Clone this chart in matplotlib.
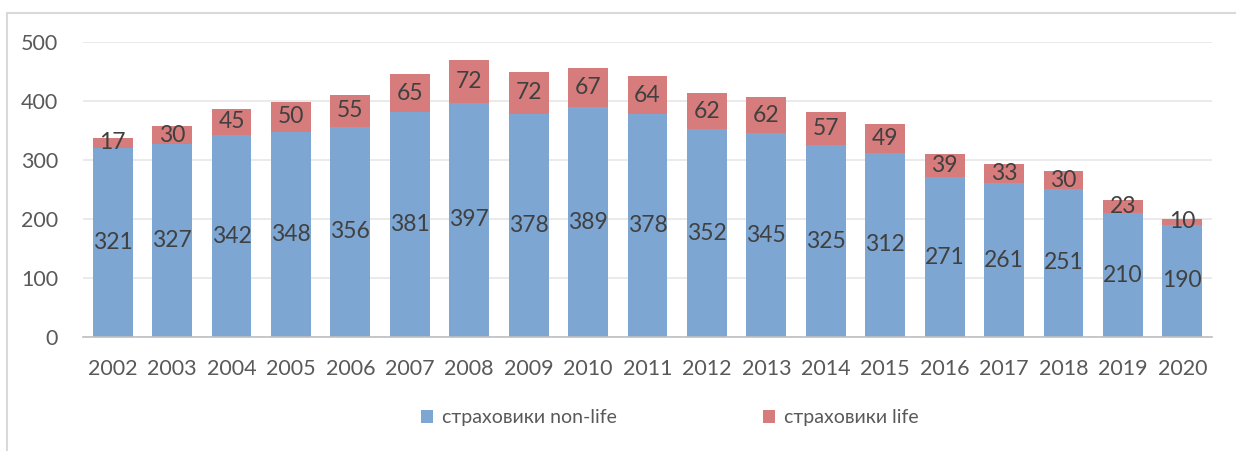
import matplotlib
matplotlib.use("agg")
import matplotlib.pyplot as plt
from matplotlib.patches import Rectangle
import numpy as np

years = ['2002', '2003', '2004', '2005', '2006', '2007', '2008', '2009', '2010', '2011',
         '2012', '2013', '2014', '2015', '2016', '2017', '2018', '2019', '2020']
nonlife = [321, 327, 342, 348, 356, 381, 397, 378, 389, 378, 352, 345, 325, 312, 271, 261, 251, 210, 190]
life = [17, 30, 45, 50, 55, 65, 72, 72, 67, 64, 62, 62, 57, 49, 39, 33, 30, 23, 10]

plt.rcParams['font.family'] = ['Lato', 'DejaVu Sans']

blue = '#7ea6d3'
red = '#d77c7c'

fig = plt.figure(figsize=(12.36, 4.51), dpi=100)
# light frame around chart area
fig.patches.append(Rectangle((7/1236, -0.1), 1.2, (451-13)/451 + 0.1, transform=fig.transFigure,
                             fill=False, edgecolor='#d9d9d9', linewidth=1.5))
ax = fig.add_axes([83/1236, 1-337/451, (1212-83)/1236, (337-42)/451])

x = np.arange(len(years))
b1 = ax.bar(x, nonlife, width=0.67, color=blue, label='страховики non-life', zorder=2)
b2 = ax.bar(x, life, width=0.67, bottom=nonlife, color=red, label='страховики life', zorder=2)

for i in range(len(years)):
    ax.text(x[i], nonlife[i]/2, str(nonlife[i]), ha='center', va='center', fontsize=16.5, color='#404040', zorder=3)
    ax.text(x[i], nonlife[i] + life[i]/2, str(life[i]), ha='center', va='center', fontsize=16.5, color='#404040', zorder=3)

ax.set_xlim(-0.5, len(years)-0.5)
ax.set_ylim(0, 500)
ax.set_yticks([0, 100, 200, 300, 400, 500])
ax.set_xticks(x)
ax.set_xticklabels(years)
ax.yaxis.grid(True, color='#e6e6e6', linewidth=1.2, zorder=0)
ax.set_axisbelow(True)
for s in ['top', 'right', 'left']:
    ax.spines[s].set_visible(False)
ax.spines['bottom'].set_color('#bfbfbf')
ax.spines['bottom'].set_linewidth(1.2)
ax.tick_params(axis='both', length=0, labelsize=15.5, colors='#595959')
ax.tick_params(axis='x', pad=16)
ax.tick_params(axis='y', pad=18)

fig.legend(handles=[b1, b2], loc='center', bbox_to_anchor=(0.542, 1-418/451), ncol=2, frameon=False,
           fontsize=14, labelcolor='#595959', handlelength=0.6, handleheight=0.6, handletextpad=0.5,
           columnspacing=7.5)

fig.savefig('out.png', dpi=100)
